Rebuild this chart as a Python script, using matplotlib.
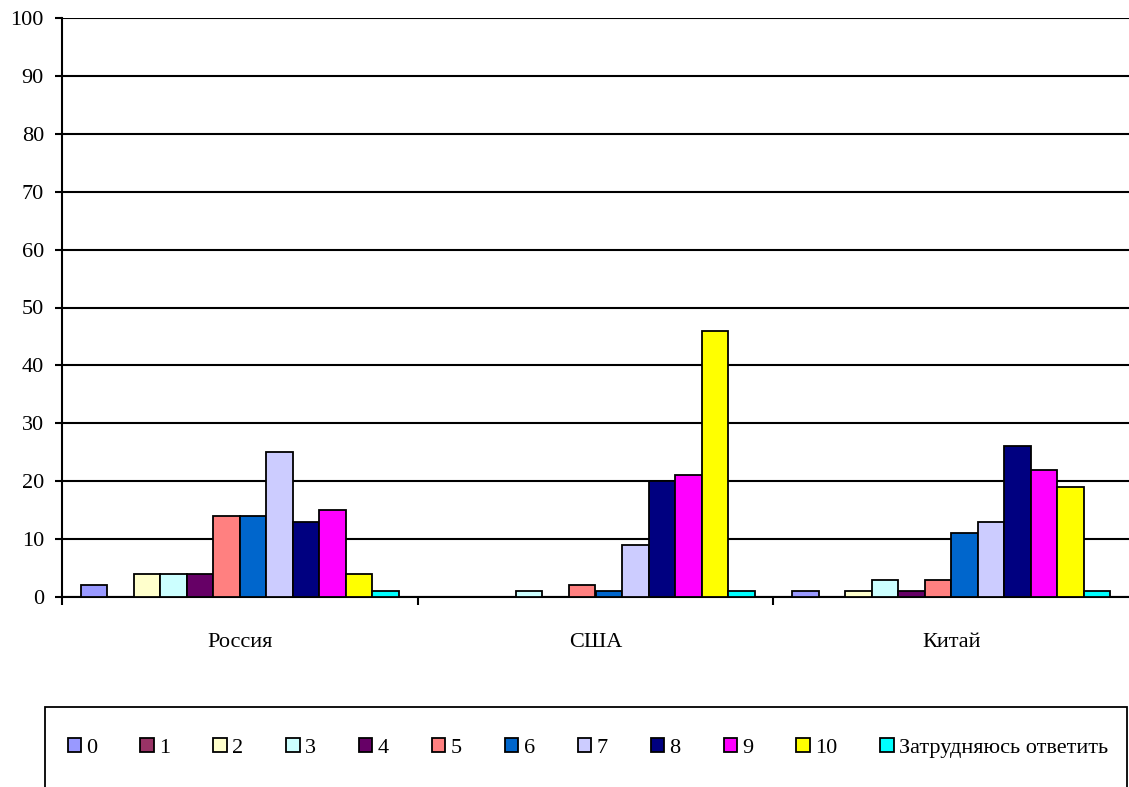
import matplotlib
matplotlib.use("Agg")
import matplotlib.pyplot as plt
from matplotlib.patches import Rectangle
import numpy as np

countries = ["Россия", "США", "Китай"]
series_names = ["0", "1", "2", "3", "4", "5", "6", "7", "8", "9", "10", "Затрудняюсь ответить"]
russia = [2, 0, 4, 4, 4, 14, 14, 25, 13, 15, 4, 1]
usa = [0, 0, 0, 1, 0, 2, 1, 9, 20, 21, 46, 1]
china = [1, 0, 1, 3, 1, 3, 11, 13, 26, 22, 19, 1]
colors = ["#9999FF", "#993366", "#FFFFCC", "#CCFFFF", "#660066", "#FF8080",
          "#0066CC", "#CCCCFF", "#000080", "#FF00FF", "#FFFF00", "#00FFFF"]
yticks = list(range(0, 101, 10))

plt.rcParams['font.family'] = ['Liberation Serif', 'DejaVu Serif']

fig = plt.figure(figsize=(11.29, 7.87), dpi=100)
ax = fig.add_axes([62/1129, 1-597/787, (1129-62)/1129, (597-18)/787])

data = np.array([russia, usa, china])  # shape (3, 12)
n = len(series_names)
total = 0.895
bw = total / n
x = np.arange(len(countries))
handles = []
for i in range(n):
    offs = -total/2 + bw*(i+0.5)
    h = ax.bar(x + offs, data[:, i], width=bw, color=colors[i], edgecolor="black",
               linewidth=1.3, label=series_names[i], zorder=3)
    handles.append(h)

ax.set_xlim(-0.5, 2.5)
ax.set_ylim(0, 100)
ax.set_yticks(yticks)
ax.set_yticklabels([str(t) for t in yticks], fontsize=16)
ax.yaxis.grid(True, color="black", linewidth=1.5, zorder=0)
ax.set_axisbelow(True)
for s in ["top", "right"]:
    ax.spines[s].set_visible(False)
ax.spines["left"].set_linewidth(1.5)
ax.spines["bottom"].set_linewidth(1.5)
ax.tick_params(axis="y", direction="out", length=5, width=1.5, pad=8)

# x ticks at group boundaries, labels at centers
ax.set_xticks([-0.5, 0.5, 1.5])
ax.set_xticklabels([])
ax.set_xticks(x, minor=True)
ax.set_xticklabels(countries, minor=True, fontsize=16)
ax.tick_params(axis="x", which="major", direction="out", length=6, width=1.5)
ax.tick_params(axis="x", which="minor", length=0, pad=26)

# legend frame
fig.patches.append(Rectangle((45/1129, -0.01), (1127-45)/1129, 1-707/787+0.01,
                             transform=fig.transFigure, fill=False,
                             edgecolor="black", linewidth=1.3))
leg = fig.legend(handles=handles, labels=series_names, loc="center",
                 bbox_to_anchor=(588/1129, 1-748/787), ncol=n, frameon=False,
                 fontsize=16, handlelength=0.6, handleheight=0.6,
                 handletextpad=0.25, columnspacing=1.93, borderaxespad=0,
                 borderpad=0)

fig.savefig("out.png", dpi=100)
